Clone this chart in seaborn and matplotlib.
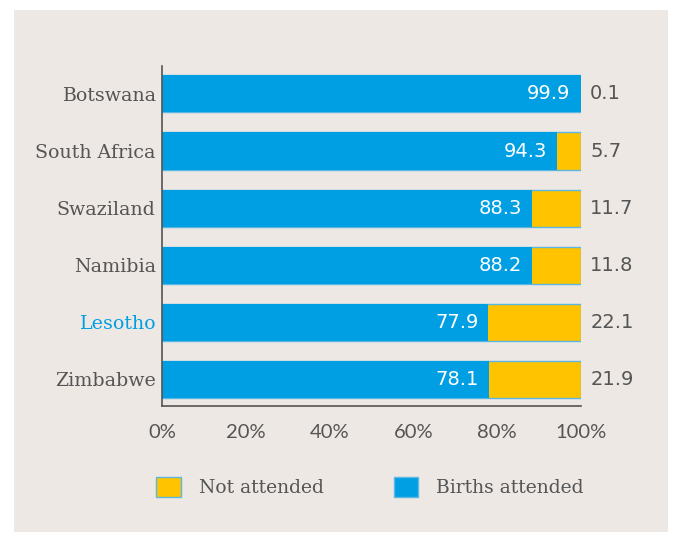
import matplotlib
matplotlib.use("Agg")
import matplotlib.pyplot as plt
import seaborn as sns
import pandas as pd
from matplotlib.patches import Patch, Rectangle
from matplotlib import font_manager

countries = ["Botswana", "South Africa", "Swaziland", "Namibia", "Lesotho", "Zimbabwe"]
attended = [99.9, 94.3, 88.3, 88.2, 77.9, 78.1]
not_attended = [0.1, 5.7, 11.7, 11.8, 22.1, 21.9]
xticks = [0, 20, 40, 60, 80, 100]
xtick_labels = ["0%", "20%", "40%", "60%", "80%", "100%"]

BLUE = "#009FE3"
YELLOW = "#FFC300"
BG = "#EDE8E4"
TEXT = "#555555"

sns.set_style("white")
plt.rcParams["font.family"] = ["DejaVu Sans"]

names = {f.name for f in font_manager.fontManager.ttflist}
NARROW = "Liberation Sans Narrow" if "Liberation Sans Narrow" in names else "DejaVu Sans"

df = pd.DataFrame({
    "country": countries,
    "attended": attended,
    "not_attended": not_attended,
})
df["total"] = df["attended"] + df["not_attended"]

fig = plt.figure(figsize=(6.81, 5.39), dpi=100)
fig.patch.set_facecolor("white")
fig.patches.append(Rectangle((14 / 681, 1 - 532 / 539), (668 - 14) / 681, (532 - 10) / 539,
                             transform=fig.transFigure, facecolor=BG, edgecolor="none", zorder=-10))

ax = fig.add_axes([162 / 681, 1 - 406 / 539, (581 - 162) / 681, (406 - 66) / 539])
ax.set_facecolor("none")

sns.barplot(data=df, y="country", x="total", orient="h", color=YELLOW, width=0.65,
            edgecolor="#5BB8E0", linewidth=1.0, saturation=1, ax=ax)
sns.barplot(data=df, y="country", x="attended", orient="h", color=BLUE, width=0.65,
            edgecolor="none", linewidth=0, saturation=1, ax=ax)

ax.set_xlim(0, 100)
ax.set_ylim(5.47, -0.49)
ax.set_xlabel("")
ax.set_ylabel("")

ax.set_xticks(xticks)
ax.set_xticklabels(xtick_labels, family="Lato", fontsize=14.5, color=TEXT)
ax.tick_params(axis="x", length=0, pad=13)
ax.tick_params(axis="y", length=0, pad=4.5)
for lbl in ax.get_yticklabels():
    lbl.set_family("DejaVu Serif")
    lbl.set_fontsize(13.7)
    lbl.set_color(BLUE if lbl.get_text() == "Lesotho" else TEXT)

for s in ["top", "right"]:
    ax.spines[s].set_visible(False)
for s in ["left", "bottom"]:
    ax.spines[s].set_color("#555555")
    ax.spines[s].set_linewidth(1.2)

fs_val = 16 if NARROW != "DejaVu Sans" else 14
for i, (a, n) in enumerate(zip(attended, not_attended)):
    ax.text(a - 2.4, i, f"{a:.1f}", ha="right", va="center", color="white",
            family=NARROW, fontsize=fs_val)
    ax.text(102.2, i, f"{n:.1f}", ha="left", va="center", color=TEXT,
            family=NARROW, fontsize=fs_val)

handles = [Patch(facecolor=YELLOW, edgecolor="#5BB8E0", linewidth=1.0),
           Patch(facecolor=BLUE, edgecolor="#5BB8E0", linewidth=1.0)]
leg = fig.legend(handles, ["Not attended", "Births attended"], ncol=2,
                 loc="center", bbox_to_anchor=(370 / 681, 1 - 487 / 539),
                 frameon=False, handlelength=1.3, handleheight=1.3,
                 handletextpad=0.95, columnspacing=3.75,
                 prop={"family": "DejaVu Serif", "size": 13.5})
for t in leg.get_texts():
    t.set_color(TEXT)

fig.savefig("out.png", dpi=100, facecolor=fig.get_facecolor())
